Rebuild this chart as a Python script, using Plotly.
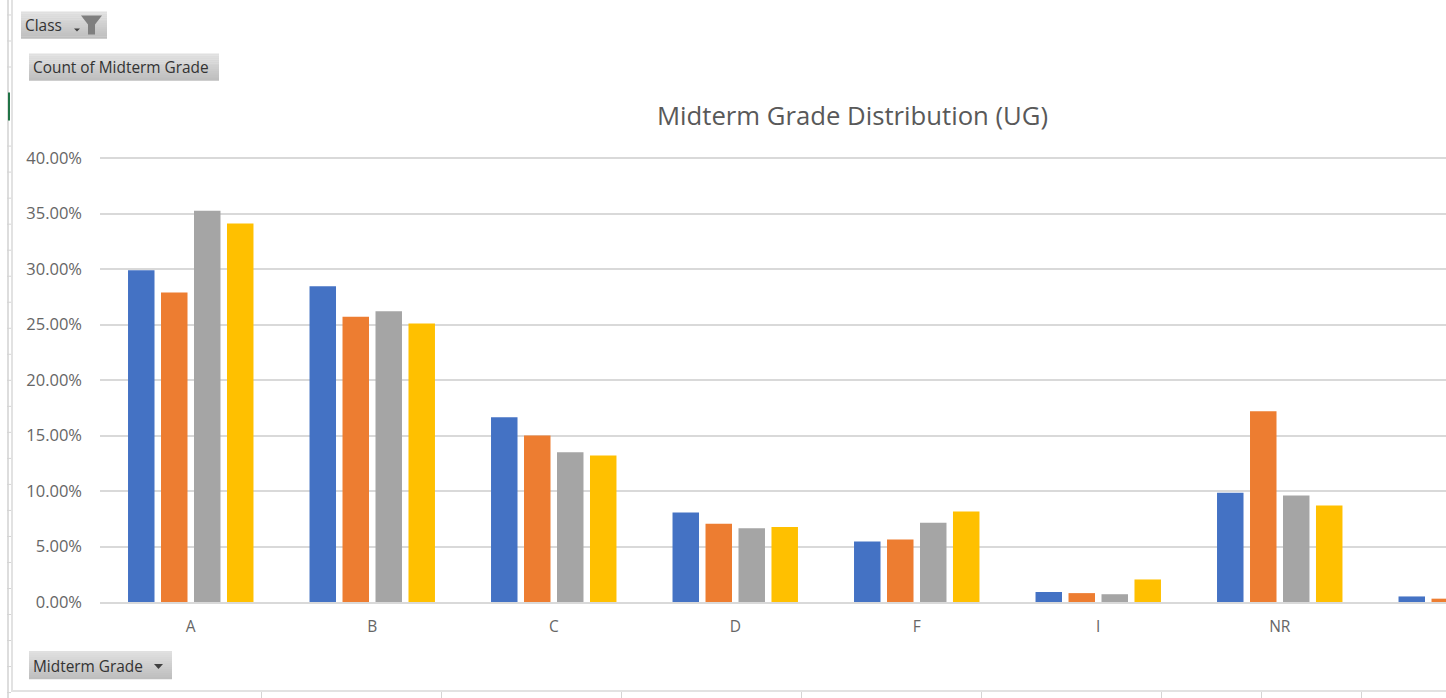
import plotly.graph_objects as go

categories = ["A", "B", "C", "D", "F", "I", "NR", " "]
series_1 = [29.9, 28.45, 16.65, 8.07, 5.45, 0.9, 9.85, 0.5]
series_2 = [27.9, 25.7, 15.0, 7.05, 5.64, 0.8, 17.2, 0.3]
series_3 = [35.25, 26.2, 13.5, 6.65, 7.15, 0.7, 9.6, None]
series_4 = [34.1, 25.1, 13.2, 6.75, 8.16, 2.03, 8.7, None]
series_names = ["Series 1", "Series 2", "Series 3", "Series 4"]
colors = ["#4472C4", "#ED7D31", "#A5A5A5", "#FFC000"]
tick_values = [0, 5, 10, 15, 20, 25, 30, 35, 40]

W, H = 1446, 698
TOP, BOTTOM = 157.4, 602
SPAN = BOTTOM - TOP
fig = go.Figure()
for name, vals, col in zip(series_names, [series_1, series_2, series_3, series_4], colors):
    fig.add_bar(x=categories, y=vals, name=name, marker=dict(color=col, line=dict(width=0)))

def fx(x):
    return (x - 100) / (W - 100)

def fy(y):
    return (BOTTOM - y) / SPAN

def px(x0, y0, x1, y1, **kw):
    fig.add_shape(type="rect", xref="paper", yref="paper", layer="below",
                  x0=fx(x0), x1=fx(x1), y0=fy(y0), y1=fy(y1), **kw)

def button(x0, y0, x1, y1):
    steps = 14
    h = (y1 - y0) / steps
    for i in range(steps):
        v = round(224 - i * 34 / (steps - 1))
        px(x0, y0 + i * h, x1, y0 + (i + 1) * h + 0.3, fillcolor=f"rgb({v},{v},{v})", line_width=0)

def label(x, y, text, size=15.4, color="#333333", anchor="left"):
    fig.add_annotation(xref="paper", yref="paper", x=fx(x), y=fy(y),
                       text=text, showarrow=False, xanchor=anchor, yanchor="middle",
                       borderpad=0, xshift=-1,
                       font=dict(size=size, color=color, family="Open Sans"))

def poly(points, color):
    path = "M " + " L ".join(f"{fx(a):.5f},{fy(b):.5f}" for a, b in points) + " Z"
    fig.add_shape(type="path", path=path, xref="paper", yref="paper", fillcolor=color, line_width=0, layer="above")

# pivot-field buttons
button(21, 12, 107, 39)
button(29, 54, 219, 81)
button(29, 651, 172, 679)
label(25, 26, "Class")
label(33, 68, "Count of Midterm Grade")
label(33, 666, "Midterm Grade")
poly([(74, 29), (80, 29), (77, 32)], "#404040")
poly([(154, 664), (163, 664), (158.5, 669)], "#404040")
poly([(81, 16), (102, 16), (95, 25), (95, 35), (88, 35), (88, 25)], "#7F7F7F")

# spreadsheet edges
px(7, 0, 9, H, fillcolor="#DDDDDD", line_width=0)
px(11, 0, 13, 690, fillcolor="#E2E2E2", line_width=0)
px(8, 93, 10, 121, fillcolor="#217346", line_width=0)
px(11, 690, W, 692, fillcolor="#E2E2E2", line_width=0)
for yv in [15, 41, 67, 146, 172, 198, 224, 250, 276, 302, 328, 354, 380, 406, 432, 458, 484, 510, 536, 562, 588, 614, 640, 666, 692]:
    px(7, yv, 11, yv + 1, fillcolor="#D4D4D4", line_width=0)
for xv in [261, 441, 621, 801, 981, 1161, 1261, 1361]:
    px(xv, 692, xv + 1, H, fillcolor="#D4D4D4", line_width=0)

fig.update_layout(
    width=W, height=H, showlegend=False, plot_bgcolor="white", paper_bgcolor="white",
    margin=dict(l=100, r=0, t=TOP, b=H - BOTTOM),
    barmode="group", bargap=0.273, bargroupgap=0.197,
    title=dict(text="Midterm Grade Distribution (UG)", x=852.5 / W, xanchor="center", y=1 - 116 / H,
               yanchor="middle", font=dict(size=25.7, color="#595959", family="Open Sans")),
    font=dict(family="Open Sans", color="#595959", size=15),
    xaxis=dict(type="category", range=[-0.5, 6.916], showgrid=False, ticks="", showline=True,
               linecolor="#D9D9D9", linewidth=2, ticklabelstandoff=9, tickfont=dict(size=15.5, color="#666666")),
    yaxis=dict(range=[0, 40.1], tickvals=tick_values, ticktext=[f"{v:.2f}%" for v in tick_values],
               gridcolor="#D9D9D9", gridwidth=2, zeroline=False, ticks="", ticklabelstandoff=17,
               tickfont=dict(size=16.5, color="#666666")),
)
fig.write_html("out.html", post_script="document.body.style.margin='0';", config={"displayModeBar": False})
